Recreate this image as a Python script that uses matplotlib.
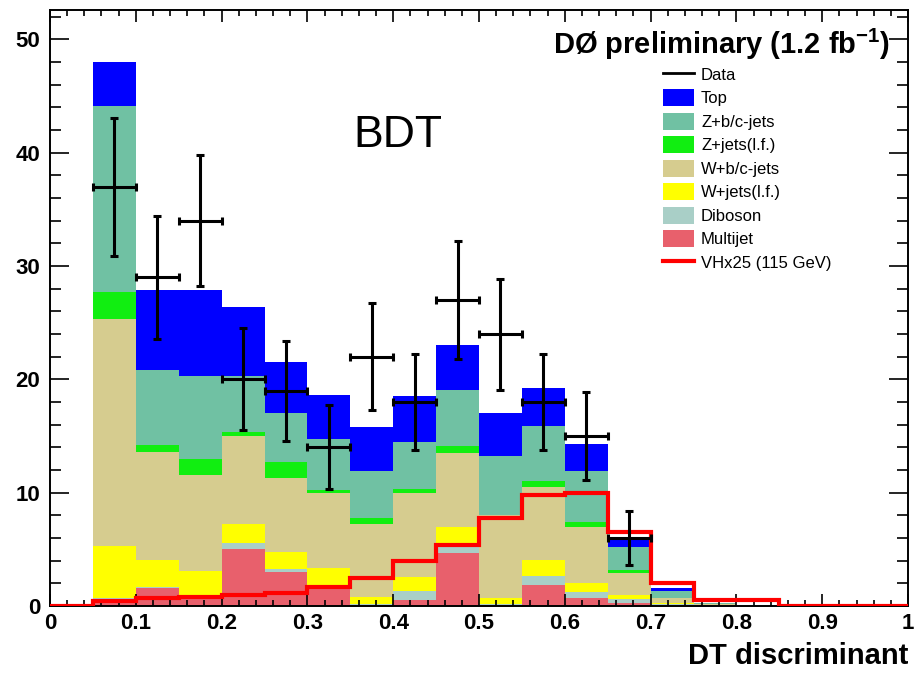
import numpy as np
import matplotlib
matplotlib.use('Agg')
from matplotlib import pyplot as plt
from matplotlib.ticker import MultipleLocator
from matplotlib.patches import Patch
from matplotlib.lines import Line2D

plt.rcParams['font.family'] = ['Liberation Sans', 'DejaVu Sans']
plt.rcParams['mathtext.fontset'] = 'custom'
plt.rcParams['mathtext.rm'] = 'Liberation Sans'
plt.rcParams['mathtext.bf'] = 'Liberation Sans:bold'

# bins of the discriminant, 20 bins of width 0.05
edges = np.linspace(0, 1, 21)

# background components (per bin, not cumulative), bottom to top
multijet = [0, 0.4, 1.6, 0.7, 5.0, 3.0, 1.7, 0.1, 0.5, 4.7, 0.1, 1.85, 0.7, 0.3, 0.05, 0, 0, 0, 0, 0]
diboson = [0, 0.3, 0.1, 0.3, 0.6, 0.3, 0.15, 0.1, 0.8, 0.85, 0.05, 0.8, 0.5, 0.3, 0.1, 0, 0, 0, 0, 0]
wjets_lf = [0, 4.6, 2.4, 2.1, 1.6, 1.5, 1.5, 0.6, 1.3, 1.45, 0.55, 1.4, 0.8, 0.4, 0.1, 0, 0, 0, 0, 0]
wbc_jets = [0, 20.0, 9.5, 8.5, 7.8, 6.5, 6.6, 6.4, 7.4, 6.5, 7.3, 6.45, 5.0, 1.9, 0.45, 0.15, 0, 0, 0, 0]
zjets_lf = [0, 2.4, 0.6, 1.4, 0.4, 1.4, 0.25, 0.6, 0.3, 0.6, 0.05, 0.5, 0.45, 0.3, 0.05, 0, 0, 0, 0, 0]
zbc_jets = [0, 16.4, 6.6, 7.3, 4.9, 4.3, 4.5, 4.1, 4.2, 5.0, 5.15, 4.9, 4.5, 2.05, 0.55, 0.1, 0, 0, 0, 0]
top = [0, 3.9, 7.1, 7.6, 6.1, 4.5, 3.9, 3.9, 4.05, 3.95, 3.8, 3.35, 2.35, 0.85, 0.25, 0, 0, 0, 0, 0]

# signal x25
signal = [0, 0.45, 0.75, 0.8, 0.97, 1.18, 1.7, 2.5, 4.0, 5.4, 7.8, 9.8, 10.0, 6.5, 2.0, 0.55, 0.55, 0, 0, 0]

# data (bins 0.05 - 0.70)
data_x = [0.075, 0.125, 0.175, 0.225, 0.275, 0.325, 0.375, 0.425, 0.475, 0.525, 0.575, 0.625, 0.675]
data_y = [37, 29, 34, 20, 19, 14, 22, 18, 27, 24, 18, 15, 6]
data_err = [6.1, 5.4, 5.8, 4.5, 4.4, 3.7, 4.7, 4.2, 5.2, 4.9, 4.2, 3.9, 2.4]

labels = ['Top', 'Z+b/c-jets', 'Z+jets(l.f.)', 'W+b/c-jets', 'W+jets(l.f.)', 'Diboson', 'Multijet']
colors = ['#0000ff', '#70c1a3', '#11ee11', '#d6cc8f', '#ffff00', '#a9cfc7', '#e8606c']

xtick_vals = [0, 0.1, 0.2, 0.3, 0.4, 0.5, 0.6, 0.7, 0.8, 0.9, 1.0]
xtick_labels = ['0', '0.1', '0.2', '0.3', '0.4', '0.5', '0.6', '0.7', '0.8', '0.9', '1']

fig = plt.figure(figsize=(9.15, 6.79), dpi=100)
ax = fig.add_axes([50 / 915, 73 / 679, 858 / 915, 596 / 679])

# stack from the bottom up
stack = [multijet, diboson, wjets_lf, wbc_jets, zjets_lf, zbc_jets, top]
stack_colors = colors[::-1]
bottom = np.zeros(len(edges) - 1)
for vals, col in zip(stack, stack_colors):
    vals = np.array(vals)
    ax.bar(edges[:-1], vals, width=0.05, bottom=bottom, align='edge',
           color=col, linewidth=0, zorder=1)
    bottom = bottom + vals

ax.stairs(signal, edges, color='#ff0000', linewidth=3, zorder=3)

ax.errorbar(data_x, data_y, yerr=data_err, xerr=0.025, fmt='none',
            ecolor='black', elinewidth=2.2, capsize=3, capthick=2.2, zorder=4)

ax.set_xlim(0, 1)
ax.set_ylim(0, 52.6)

ax.set_xticks(xtick_vals)
ax.set_xticklabels(xtick_labels)
ax.set_yticks([0, 10, 20, 30, 40, 50])
ax.xaxis.set_minor_locator(MultipleLocator(0.02))
ax.yaxis.set_minor_locator(MultipleLocator(2))

ax.tick_params(which='both', direction='in', top=True, right=True, width=1.2)
ax.tick_params(axis='x', which='major', length=8.5, pad=5)
ax.tick_params(axis='x', which='minor', length=4.5)
ax.tick_params(axis='y', which='major', length=14, pad=7)
ax.tick_params(axis='y', which='minor', length=8)
for lab in ax.get_xticklabels() + ax.get_yticklabels():
    lab.set_fontsize(16)
    lab.set_fontweight('bold')

for sp in ax.spines.values():
    sp.set_linewidth(1.4)

ax.set_xlabel('DT discriminant', fontsize=21, fontweight='bold', loc='right', labelpad=6)

ax.text(0.405, 0.79, 'BDT', transform=ax.transAxes, fontsize=32,
        ha='center', va='center')

fig.text(890 / 915, 1 - 44 / 679, r'DØ preliminary (1.2 fb$^{\mathbf{-1}}$)',
         fontsize=21, fontweight='bold', ha='right', va='center')

handles = [Line2D([], [], color='black', linewidth=2)]
handles += [Patch(facecolor=c, edgecolor='none') for c in colors]
handles += [Line2D([], [], color='#ff0000', linewidth=3)]
leg_labels = ['Data'] + labels + ['VHx25 (115 GeV)']
leg = ax.legend(handles, leg_labels, loc='upper left',
                bbox_to_anchor=(656 / 915, 1 - 59 / 679), bbox_transform=fig.transFigure,
                fontsize=12, frameon=True, fancybox=False, edgecolor='none',
                borderpad=0.4, borderaxespad=0, labelspacing=0.38,
                handlelength=1.9, handleheight=1.2, handletextpad=0.4)
leg.get_frame().set_facecolor('white')
leg.get_frame().set_alpha(1)

fig.savefig('out.png', dpi=100)
